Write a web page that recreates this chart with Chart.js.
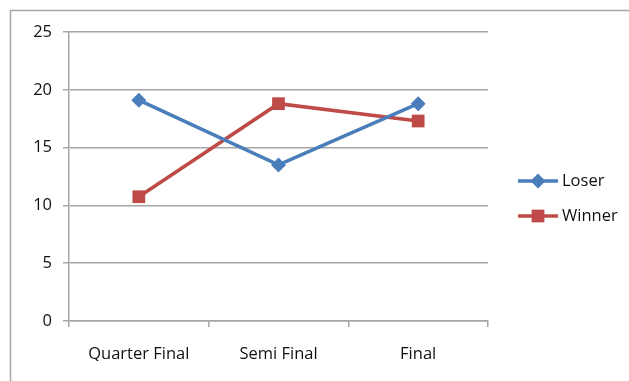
<!DOCTYPE html>
<html>
<head>
<meta charset="utf-8">
<script src="https://cdn.jsdelivr.net/npm/chart.js@4.4.0/dist/chart.umd.min.js"></script>
<style>
  body { margin: 0; background: #fff; }
  canvas { display: block; }
</style>
</head>
<body>
<canvas id="grafico" width="629" height="381"></canvas>
<script>
const rondas = ["Quarter Final", "Semi Final", "Final"];
const loser = [19.1, 13.5, 18.8];
const winner = [10.75, 18.8, 17.3];
const marcas = [0, 5, 10, 15, 20, 25];

const azul = "#4A7EBB";
const rojo = "#BE4B48";
const gris = "#a6a6a6";
const fuente = { family: "Open Sans", size: 16.5 };

// marco gris arriba y a la izquierda
const marco = {
  id: "marco",
  afterDraw(chart) {
    const ctx = chart.ctx;
    ctx.save();
    ctx.strokeStyle = gris;
    ctx.lineWidth = 1.5;
    ctx.beginPath();
    ctx.moveTo(10.5, 381);
    ctx.lineTo(10.5, 10.5);
    ctx.lineTo(629, 10.5);
    ctx.stroke();
    ctx.restore();
  },
};

// leyenda a la derecha, linea + marcador
const leyenda = {
  id: "leyenda",
  afterDraw(chart) {
    const ctx = chart.ctx;
    const filas = [181, 216];
    chart.data.datasets.forEach((ds, i) => {
      const y = filas[i];
      ctx.save();
      ctx.strokeStyle = ds.borderColor;
      ctx.fillStyle = ds.backgroundColor;
      ctx.lineWidth = 3.5;
      ctx.beginPath();
      ctx.moveTo(518, y);
      ctx.lineTo(558, y);
      ctx.stroke();
      Chart.helpers.drawPoint(ctx, {
        pointStyle: ds.pointStyle,
        radius: ds.pointRadius,
        rotation: 0,
        borderWidth: 0,
      }, 538, y);
      ctx.fillStyle = "#111";
      ctx.font = "16.5px 'Open Sans'";
      ctx.textBaseline = "middle";
      ctx.fillText(ds.label, 562, y);
      ctx.restore();
    });
  },
};

const data = {
  labels: rondas,
  datasets: [
    {
      label: "Loser",
      data: loser,
      borderColor: azul,
      backgroundColor: azul,
      borderWidth: 3.5,
      pointStyle: "rectRot",
      pointRadius: 7.5,
      pointBorderWidth: 0,
      tension: 0,
    },
    {
      label: "Winner",
      data: winner,
      borderColor: rojo,
      backgroundColor: rojo,
      borderWidth: 3.5,
      pointStyle: "rect",
      pointRadius: 9,
      pointBorderWidth: 0,
      tension: 0,
    },
  ],
};

const options = {
  responsive: false,
  animation: false,
  layout: { padding: { left: 0, top: 32, right: 141, bottom: 20 } },
  plugins: {
    legend: { display: false },
    tooltip: { enabled: false },
  },
  scales: {
    x: {
      offset: true,
      grid: { drawOnChartArea: false, offset: true, color: gris, lineWidth: 1.5, tickLength: 6 },
      border: { color: gris, width: 1.5 },
      ticks: { color: "#111", font: fuente, padding: 17 },
      afterFit: (s) => { s.height = 40; },
    },
    y: {
      min: 0,
      max: 25,
      afterBuildTicks: (s) => { s.ticks = marcas.map((v) => ({ value: v })); },
      grid: { color: gris, lineWidth: 1.5, tickLength: 6 },
      border: { color: gris, width: 1.5 },
      ticks: { color: "#111", font: fuente, padding: 11 },
      afterFit: (s) => { s.width = 69; },
    },
  },
};

const config = {
  type: "line",
  data: data,
  options: options,
  plugins: [marco, leyenda],
};

const chart = new Chart(document.getElementById("grafico"), config);
</script>
</body>
</html>
